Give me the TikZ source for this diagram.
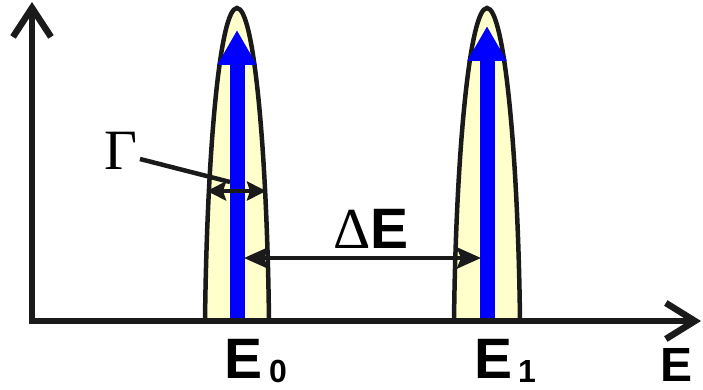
\documentclass[tikz,border=0pt]{standalone}
\usepackage{fontspec}
\setmainfont{Liberation Sans}
\newfontfamily\grkfont{Liberation Serif}
\usetikzlibrary{arrows.meta}

\definecolor{peakfill}{HTML}{FFFFCC}
\definecolor{linecol}{HTML}{1A1A1A}

\tikzset{
  axisline/.style = {line width=6.5pt, draw=linecol,
    {Straight Barb[length=29pt,width=38pt]}-{Straight Barb[length=29pt,width=36pt]}},
  peakline/.style = {line width=4.5pt, draw=linecol, fill=peakfill},
  levelarrow/.style = {line width=15pt, draw=blue, -{Triangle[length=35pt,width=37pt]}},
  dimarrow/.style = {line width=4.5pt, draw=linecol,
    {Stealth[length=24pt,width=21pt,inset=4pt]}-{Stealth[length=24pt,width=21pt,inset=4pt]}},
  widtharrow/.style = {line width=4.5pt, draw=linecol,
    {Stealth[length=19pt,width=19pt,inset=3pt]}-{Stealth[length=19pt,width=19pt,inset=3pt]}},
  lbl/.style = {anchor=base west, inner sep=0pt, text=black},
  bigE/.style = {lbl, font=\bfseries\fontsize{57}{60}\selectfont},
  smalldigit/.style = {lbl, font=\bfseries\fontsize{32}{34}\selectfont}
}

\begin{document}
\begin{tikzpicture}[x=1pt, y=-1pt]
\def\xA{237}
\def\xB{487}
\def\yAx{321}
\useasboundingbox (0,0) rectangle (703,390);

% Peaks
\draw[peakline] ({\xA-32},\yAx) .. controls ({\xA-30},150) and ({\xA-17},8) .. (\xA,8)
  .. controls ({\xA+17},8) and ({\xA+30},150) .. ({\xA+32},\yAx);
\draw[peakline] ({\xB-33},\yAx) .. controls ({\xB-31},150) and ({\xB-17},8) .. (\xB,8)
  .. controls ({\xB+17},8) and ({\xB+31},150) .. ({\xB+33},\yAx);

% Levels
\coordinate (A0) at (\xA,\yAx);
\coordinate (A1) at (\xA,30);
\coordinate (B0) at (\xB,\yAx);
\coordinate (B1) at (\xB,26);
\draw[levelarrow] (A0) -- (A1);
\draw[levelarrow] (B0) -- (B1);

% Axes
\coordinate (yTip) at (32,2);
\coordinate (O) at (32,\yAx);
\coordinate (xTip) at (701,\yAx);
\draw[axisline] (yTip) -- (O) -- (xTip);

% Width Gamma
\node[lbl, font=\grkfont\fontsize{57}{60}\selectfont] (gamma) at (104,170) {Γ};
\coordinate (leadS) at (140,159);
\coordinate (leadE) at (230,182);
\draw[line width=4.5pt, draw=linecol] (leadS) -- (leadE);
\coordinate (gA) at (207,191);
\coordinate (gB) at (266,191);
\draw[widtharrow] (gA) -- (gB);

% Spacing Delta E
\coordinate (dA) at (244,258);
\coordinate (dB) at (481,258);
\draw[dimarrow] (dA) -- (dB);
\node[bigE] (dE) at (333,248) {{\grkfont\mdseries\fontsize{58}{60}\selectfont Δ}E};

% Labels
\node[bigE] (E0) at (224,378) {E};
\node[smalldigit] (n0) at (269,382) {0};
\node[bigE] (E1) at (474,378) {E};
\node[smalldigit] (n1) at (518,382) {1};
\node[lbl, font=\bfseries\fontsize{48}{52}\selectfont] (Eax) at (660,381) {E};

\end{tikzpicture}
\end{document}
